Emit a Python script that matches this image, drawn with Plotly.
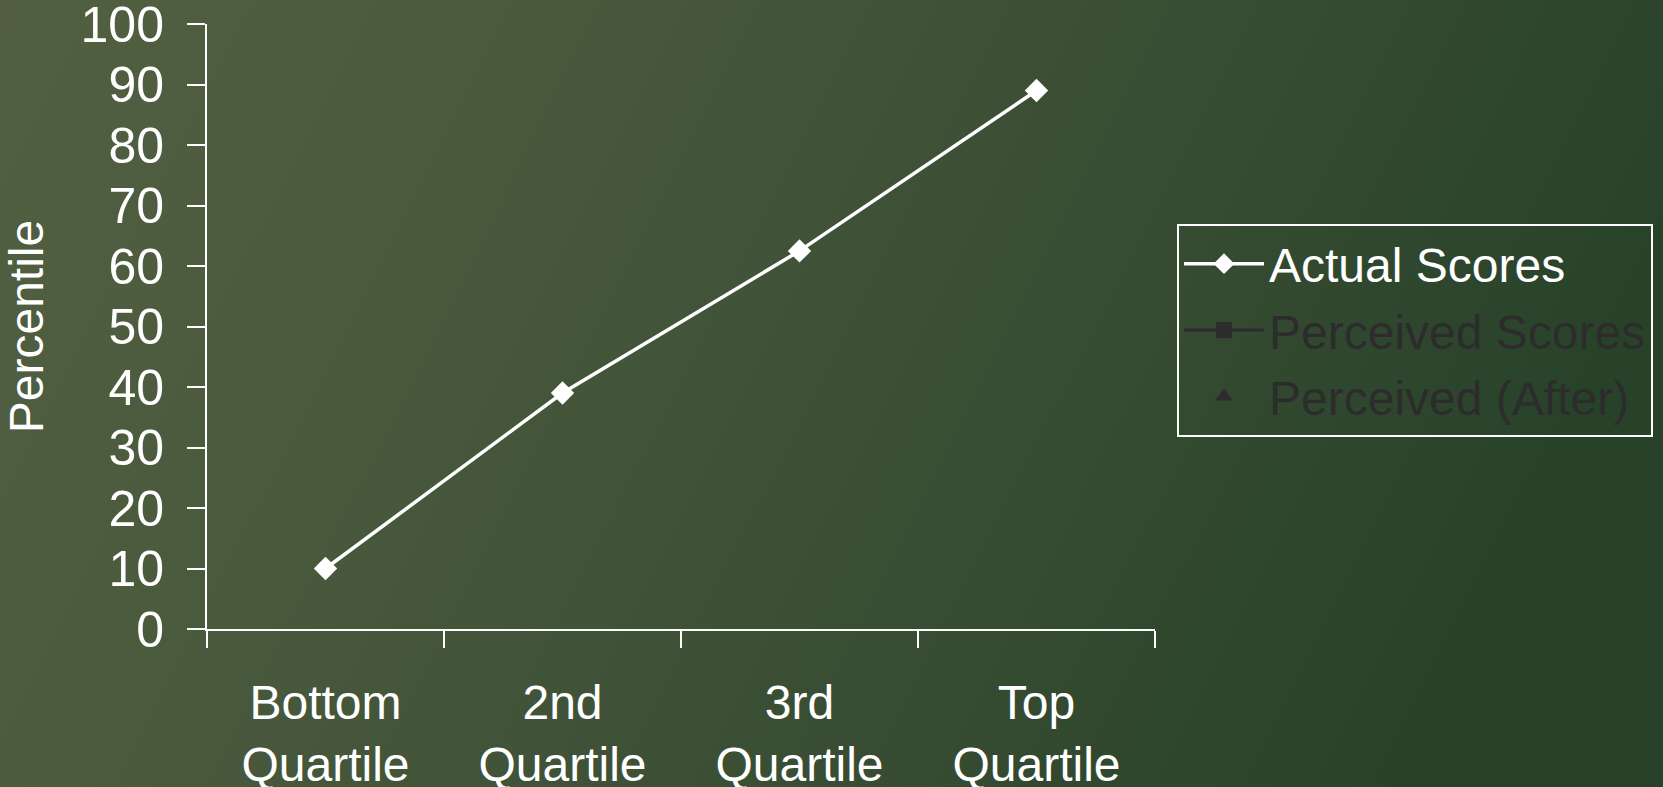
import plotly.graph_objects as go
import base64

categories = ["Bottom<br>Quartile", "2nd<br>Quartile", "3rd<br>Quartile", "Top<br>Quartile"]
actual_scores = [10, 39, 62.5, 89]
perceived_scores = [None, None, None, None]
perceived_after = [None, None, None, None]
y_ticks = [0, 10, 20, 30, 40, 50, 60, 70, 80, 90, 100]

W, H = 1663, 787
L, R, T, B = 207, 1663 - 1155, 24, 787 - 629
pw, ph = W - L - R, H - T - B

FONT = "Liberation Sans"
WHITE = "#ffffff"
DARK = "#2c2c2c"

PAD = 40
svg = f"""<svg xmlns='http://www.w3.org/2000/svg' width='{W + 2 * PAD}' height='{H + 2 * PAD}' viewBox='0 0 {W + 2 * PAD} {H + 2 * PAD}' preserveAspectRatio='none'>
<defs>
<linearGradient id='g' x1='0' y1='0' x2='1' y2='0.25'>
<stop offset='0' stop-color='#536042'/>
<stop offset='0.3' stop-color='#4a5a3d'/>
<stop offset='0.6' stop-color='#3d5036'/>
<stop offset='1' stop-color='#28422a'/>
</linearGradient>
</defs>
<rect width='{W + 2 * PAD}' height='{H + 2 * PAD}' fill='url(#g)'/>
</svg>"""
bg_src = "data:image/svg+xml;base64," + base64.b64encode(svg.encode()).decode()

fig = go.Figure()
fig.add_trace(go.Scatter(
    x=categories, y=actual_scores, name="Actual Scores", legendgroup="a",
    mode="lines+markers",
    line=dict(color=WHITE, width=3.5),
    marker=dict(symbol="diamond", size=18, color=WHITE),
))
fig.add_trace(go.Scatter(
    x=categories, y=perceived_scores,
    name=f"<span style='color:{DARK}'>Perceived Scores</span>", legendgroup="b",
    mode="lines+markers",
    line=dict(color=DARK, width=3),
    marker=dict(symbol="square", size=16, color=DARK),
))
fig.add_trace(go.Scatter(
    x=categories, y=perceived_after,
    name=f"<span style='color:{DARK}'>Perceived (After)</span>", legendgroup="c",
    mode="markers",
    marker=dict(symbol="triangle-up", size=20, color=DARK),
))

fig.update_layout(
    width=W, height=H,
    autosize=False,
    margin=dict(l=L, r=R, t=T, b=B, pad=0, autoexpand=False),
    paper_bgcolor="#3f5236",
    plot_bgcolor="rgba(0,0,0,0)",
    font=dict(family=FONT, size=48, color=WHITE),
    showlegend=True,
    legend=dict(
        x=(1177 - L) / pw, xanchor="left",
        y=(629 - 224) / ph, yanchor="top",
        bgcolor="rgba(0,0,0,0)",
        bordercolor=WHITE, borderwidth=2,
        font=dict(family=FONT, size=48, color=WHITE),
        tracegroupgap=1,
        itemwidth=80,
    ),
    images=[dict(
        source=bg_src, xref="paper", yref="paper",
        x=-(L + PAD) / pw, y=1 + (T + PAD) / ph,
        sizex=(W + 2 * PAD) / pw, sizey=(H + 2 * PAD) / ph,
        xanchor="left", yanchor="top", sizing="stretch", layer="below",
    )],
    xaxis=dict(
        type="category", categoryorder="array", categoryarray=categories,
        range=[-0.5, 3.5], automargin=False,
        showgrid=False, zeroline=False,
        showline=True, linecolor=WHITE, linewidth=2,
        ticks="outside", tickson="boundaries", ticklen=17, tickwidth=2, tickcolor=WHITE,
        tickfont=dict(family=FONT, size=48, color=WHITE),
        ticklabelstandoff=30,
        ticklabeloverflow="allow",
    ),
    yaxis=dict(
        range=[0, 100], tickvals=y_ticks, automargin=False,
        showgrid=False, zeroline=False,
        showline=True, linecolor=WHITE, linewidth=2,
        ticks="outside", ticklen=18, tickwidth=2, tickcolor=WHITE,
        tickfont=dict(family=FONT, size=50, color=WHITE),
        ticklabelstandoff=13,
        ticklabeloverflow="allow",
        title=dict(text="Percentile", font=dict(family=FONT, size=48, color=WHITE), standoff=30),
    ),
)

fig.write_html("out.html")
